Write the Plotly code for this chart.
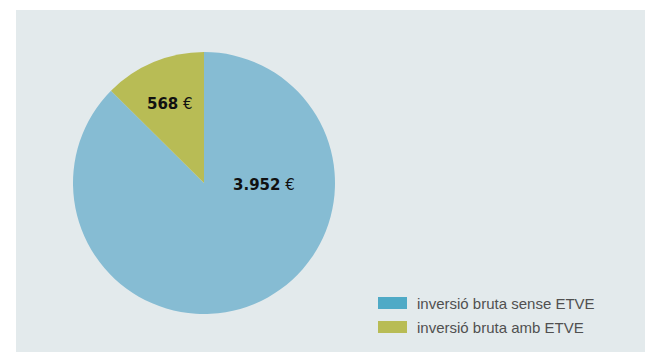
import plotly.graph_objects as go

labels = ["inversió bruta sense ETVE", "inversió bruta amb ETVE"]
values = [3952, 568]
value_text = ["3.952", "568"]
slice_colors = ["#86BCD3", "#B8BC55"]
legend_colors = ["#4FAAC6", "#B8BC55"]

W, H = 646, 352
ML, MT, MR, MB = 16, 10, 1, 0
PW, PH = W - ML - MR, H - MT - MB

def px(x):
    return (x - ML) / PW

def py(y):
    return 1 - (y - MT) / PH

fig = go.Figure()
fig.add_trace(go.Pie(
    labels=labels, values=values, sort=False, direction="clockwise", rotation=0,
    marker=dict(colors=slice_colors, line=dict(width=0)),
    textinfo="none", hoverinfo="label+value", showlegend=False,
    domain=dict(x=[px(73), px(335)], y=[py(314), py(52)]),
))

# value labels
label_pos = [(264, 185), (170, 104)]
for (x, y), t in zip(label_pos, value_text):
    fig.add_annotation(x=px(x), y=py(y), xref="paper", yref="paper",
                       xanchor="center", yanchor="middle",
                       text=f"<b>{t}</b> €", showarrow=False,
                       font=dict(family="DejaVu Sans", size=15, color="#111111"))

shapes = [dict(type="rect", xref="paper", yref="paper", x0=0, x1=1, y0=0, y1=1,
               fillcolor="#E3EAEC", line=dict(width=0), layer="below")]
# legend
leg_y = [303, 327]
for i, (lab, col) in enumerate(zip(labels, legend_colors)):
    yc = leg_y[i]
    shapes.append(dict(type="rect", xref="paper", yref="paper",
                       x0=px(378), x1=px(407), y0=py(yc + 6), y1=py(yc - 6),
                       fillcolor=col, line=dict(width=0)))
    fig.add_annotation(x=px(415), y=py(yc), xref="paper", yref="paper",
                       xanchor="left", yanchor="middle", text=lab, showarrow=False,
                       font=dict(family="Liberation Sans", size=15, color="#505050"))

fig.update_layout(width=W, height=H, margin=dict(l=ML, r=MR, t=MT, b=MB),
                  paper_bgcolor="white", shapes=shapes, showlegend=False)
fig.write_html("out.html")
